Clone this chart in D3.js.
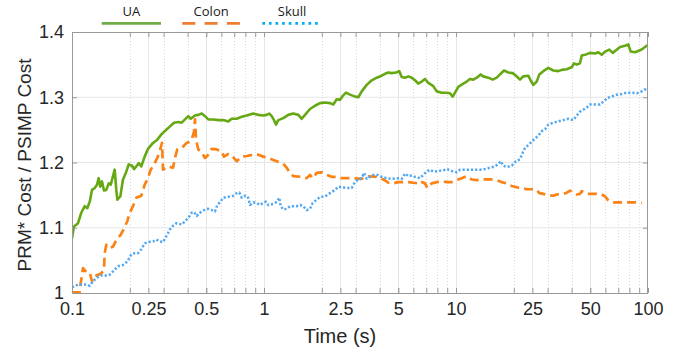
<!DOCTYPE html>
<html><head><meta charset="utf-8">
<script src="https://cdn.jsdelivr.net/npm/d3@7"></script>
<style>body{margin:0;background:#fff}</style>
</head><body><svg id="c" width="678" height="351"></svg>
<script>
const seriesNames = ["UA", "Colon", "Skull"];
const xTickValues = [0.1, 0.25, 0.5, 1, 2.5, 5, 10, 25, 50, 100];
const xTickLabels = ["0.1", "0.25", "0.5", "1", "2.5", "5", "10", "25", "50", "100"];
const xMinorValues = [0.2,0.3,0.4,0.5,0.6,0.7,0.8,0.9,2,3,4,5,6,7,8,9,20,30,40,50,60,70,80,90];
const yTickValues = [1, 1.1, 1.2, 1.3, 1.4];
const yTickLabels = ["1", "1.1", "1.2", "1.3", "1.4"];

const uaTime = [0.1,0.1024,0.1075,0.1118,0.1165,0.1201,0.1237,0.1271,0.1313,0.135,0.1377,0.1404,0.1433,0.1468,0.1509,0.1553,0.1591,0.1621,0.1669,0.1701,0.1722,0.1785,0.1843,0.1918,0.1974,0.2054,0.2104,0.2162,0.2225,0.2296,0.2391,0.2488,0.2642,0.2782,0.2918,0.304,0.3228,0.3398,0.3578,0.3727,0.3877,0.4034,0.4152,0.4371,0.4548,0.4737,0.4928,0.5127,0.5444,0.5801,0.6138,0.6517,0.6788,0.7208,0.7654,0.8126,0.8795,0.9339,0.9917,1.033,1.066,1.097,1.127,1.155,1.187,1.261,1.338,1.421,1.509,1.572,1.635,1.736,1.843,1.957,2.078,2.207,2.296,2.391,2.488,2.57,2.674,2.805,2.978,3.099,3.228,3.427,3.639,3.864,4.102,4.268,4.441,4.625,4.87,5.067,5.215,5.425,5.644,5.879,6.116,6.363,6.628,6.895,7.174,7.617,7.933,8.424,8.945,9.305,9.612,9.881,10.28,10.91,11.37,11.83,12.31,12.82,13.45,13.87,14.73,15.53,16.29,16.95,17.78,18.72,19.74,20.54,21.54,22.41,23.8,24.49,25.27,26.32,27.16,28.49,30.25,32.12,34.1,35.52,37.72,40.05,41.17,42.53,44.24,45.16,46.98,49.88,52.96,55.1,57.39,59.71,62.87,65.49,68.13,71.48,75.9,78.96,81.26,85.57,90.84,94.52,98.45,100];
const uaCost = [1.084,1.102,1.107,1.123,1.133,1.130,1.140,1.158,1.161,1.166,1.176,1.163,1.171,1.157,1.158,1.168,1.166,1.175,1.189,1.158,1.143,1.148,1.174,1.186,1.197,1.195,1.190,1.194,1.199,1.194,1.209,1.221,1.230,1.235,1.243,1.248,1.255,1.261,1.262,1.261,1.266,1.271,1.267,1.272,1.273,1.275,1.271,1.266,1.266,1.265,1.265,1.263,1.267,1.267,1.270,1.272,1.275,1.273,1.272,1.273,1.275,1.271,1.265,1.258,1.265,1.268,1.273,1.275,1.273,1.267,1.273,1.282,1.287,1.291,1.292,1.291,1.289,1.297,1.296,1.302,1.307,1.304,1.301,1.300,1.309,1.319,1.326,1.330,1.333,1.336,1.338,1.337,1.338,1.340,1.331,1.330,1.332,1.330,1.326,1.321,1.324,1.328,1.322,1.317,1.309,1.307,1.307,1.306,1.301,1.307,1.316,1.321,1.324,1.328,1.327,1.330,1.335,1.332,1.330,1.327,1.330,1.335,1.341,1.338,1.337,1.333,1.327,1.332,1.333,1.326,1.319,1.324,1.335,1.340,1.345,1.341,1.340,1.342,1.343,1.346,1.352,1.350,1.352,1.364,1.365,1.368,1.367,1.369,1.365,1.370,1.373,1.368,1.372,1.377,1.379,1.381,1.370,1.369,1.372,1.375,1.379,1.380];

const colonTime = [0.1,0.1097,0.111,0.1141,0.1187,0.1237,0.1271,0.1302,0.1366,0.1421,0.1468,0.148,0.1509,0.1572,0.1635,0.1722,0.1793,0.1881,0.1941,0.1998,0.2078,0.2162,0.2296,0.2391,0.2488,0.257,0.2674,0.2782,0.2863,0.2943,0.2978,0.3162,0.3358,0.3452,0.3535,0.3727,0.3957,0.4117,0.4202,0.4319,0.4371,0.4424,0.4548,0.4737,0.4928,0.5127,0.5341,0.5671,0.6022,0.619,0.6517,0.6871,0.7208,0.7654,0.8126,0.8795,0.9339,0.9917,1.053,1.118,1.165,1.261,1.313,1.366,1.421,1.572,1.669,1.736,1.793,1.881,1.998,2.121,2.252,2.391,2.539,2.863,3.228,3.427,3.864,4.182,4.441,4.715,5.006,5.313,5.644,5.993,6.363,6.494,6.895,7.088,7.473,7.933,8.424,8.945,9.497,10.08,10.71,11.37,12.07,12.82,13.61,15.34,16.29,17.3,18.37,19.5,20.71,21.99,23.35,24.79,26.32,27.16,28.49,30.25,32.12,33.46,35.52,37.41,39.24,41.17,42.53,44.24,45.16,47.94,54.06,57.39,59.71,62.13,65.96,74.37,83.84,89.02,92.73];
const colonCost = [1.001,1.001,1.015,1.038,1.032,1.031,1.018,1.025,1.028,1.030,1.036,1.061,1.074,1.069,1.071,1.084,1.089,1.101,1.110,1.123,1.133,1.146,1.149,1.166,1.176,1.189,1.197,1.207,1.217,1.230,1.189,1.194,1.192,1.209,1.220,1.222,1.230,1.232,1.235,1.247,1.266,1.235,1.220,1.215,1.207,1.212,1.221,1.220,1.217,1.209,1.213,1.209,1.202,1.209,1.210,1.212,1.212,1.209,1.207,1.204,1.202,1.198,1.192,1.184,1.179,1.178,1.176,1.181,1.176,1.184,1.185,1.181,1.178,1.178,1.176,1.176,1.175,1.179,1.178,1.174,1.169,1.168,1.170,1.170,1.170,1.169,1.168,1.171,1.168,1.161,1.168,1.170,1.171,1.170,1.170,1.173,1.176,1.179,1.174,1.173,1.174,1.174,1.173,1.170,1.168,1.164,1.162,1.161,1.159,1.159,1.158,1.153,1.152,1.150,1.149,1.151,1.152,1.153,1.157,1.153,1.151,1.152,1.156,1.152,1.152,1.151,1.148,1.142,1.139,1.139,1.139,1.139,1.138];

const skullTime = [0.1,0.1033,0.1075,0.1187,0.1237,0.1286,0.1338,0.1421,0.1509,0.1572,0.1635,0.1736,0.1843,0.1941,0.2036,0.2121,0.2207,0.2296,0.2391,0.2488,0.2642,0.2748,0.2863,0.2978,0.3099,0.3228,0.3358,0.3493,0.3727,0.3877,0.4034,0.4202,0.4319,0.4462,0.4642,0.4928,0.5127,0.5341,0.5556,0.5712,0.59,0.6138,0.6394,0.692,0.7208,0.7437,0.7654,0.7962,0.8224,0.8455,0.8795,0.9162,0.9532,0.9917,1.024,1.053,1.097,1.141,1.173,1.201,1.222,1.261,1.313,1.366,1.48,1.54,1.602,1.669,1.736,1.793,1.881,1.957,2.078,2.207,2.343,2.438,2.539,2.696,2.863,2.978,3.099,3.228,3.318,3.427,3.565,3.709,3.891,4.102,4.356,4.625,4.911,5.215,5.425,5.644,5.879,6.116,6.494,6.756,7.037,7.321,7.617,8.087,8.587,8.945,9.497,10.08,10.49,11.14,11.83,12.56,13.34,14.16,15.03,15.96,16.61,17.09,17.63,18.37,19.5,20.54,21.54,22.25,22.88,23.8,24.79,26.1,26.83,27.95,29.08,30.25,32.12,34.1,36.21,38.45,40.83,42.53,44.24,46.03,47.94,49.88,52.96,56.23,59,61.38,64.7,68.71,72.95,77.46,82.24,87.33,92.73,96.47,100];
const skullCost = [1.009,1.010,1.013,1.013,1.011,1.018,1.023,1.027,1.027,1.028,1.033,1.041,1.043,1.048,1.059,1.061,1.061,1.067,1.076,1.078,1.079,1.082,1.079,1.078,1.087,1.097,1.103,1.107,1.105,1.110,1.115,1.123,1.124,1.118,1.123,1.128,1.129,1.127,1.125,1.135,1.139,1.146,1.147,1.149,1.153,1.154,1.146,1.149,1.148,1.135,1.139,1.138,1.135,1.138,1.140,1.135,1.136,1.138,1.140,1.146,1.133,1.128,1.129,1.133,1.133,1.135,1.133,1.127,1.129,1.138,1.143,1.147,1.148,1.153,1.158,1.163,1.162,1.161,1.161,1.170,1.174,1.176,1.184,1.175,1.178,1.181,1.181,1.178,1.176,1.175,1.176,1.175,1.183,1.179,1.180,1.178,1.176,1.181,1.186,1.189,1.186,1.187,1.188,1.190,1.187,1.185,1.189,1.189,1.189,1.189,1.189,1.190,1.192,1.194,1.198,1.202,1.195,1.193,1.195,1.202,1.205,1.215,1.222,1.227,1.232,1.238,1.241,1.248,1.251,1.258,1.261,1.263,1.265,1.267,1.265,1.272,1.278,1.281,1.284,1.289,1.289,1.289,1.294,1.299,1.301,1.304,1.305,1.307,1.307,1.306,1.309,1.312,1.309];

function zip(t, v, name) {
  if (t.length !== v.length) throw new Error(name + " length mismatch " + t.length + " vs " + v.length);
  return t.map((d, i) => ({t: d, v: v[i]}));
}
const series = [
  {name: seriesNames[0], data: zip(uaTime, uaCost, "UA"), color: "#66a814", legendColor: "#70ad47", width: 2.6, dash: null, legendDash: null},
  {name: seriesNames[1], data: zip(colonTime, colonCost, "Colon"), color: "#fb8214", legendColor: "#ed7d31", width: 2.7, dash: "9,5", legendDash: "13,9.3"},
  {name: seriesNames[2], data: zip(skullTime, skullCost, "Skull"), color: "#52a8f2", legendColor: "#00b0f0", width: 2.5, dash: "2.2,2", legendDash: "2.7,3.9"}
];

const L = 72, R = 648, T = 32, B = 293;
const svg = d3.select("#c");
const x = d3.scaleLog().domain([0.1, 100]).range([L, R]);
const y = d3.scaleLinear().domain([1, 1.4]).range([B, T]);
const font = "'Liberation Sans', Arial, Helvetica, sans-serif";

// grid
const g = svg.append("g");
g.selectAll(".hg").data(yTickValues.slice(1, -1)).join("line")
  .attr("x1", L).attr("x2", R).attr("y1", d => y(d)).attr("y2", d => y(d))
  .attr("stroke", "#e6e6e6").attr("stroke-width", 1);
g.selectAll(".vmin").data(xMinorValues.filter(d => !xTickValues.includes(d))).join("line")
  .attr("x1", d => Math.round(x(d)) + 0.5).attr("x2", d => Math.round(x(d)) + 0.5).attr("y1", T).attr("y2", B)
  .attr("stroke", "#dcdcdc").attr("stroke-width", 1).attr("stroke-dasharray", "1,2");
g.selectAll(".vmaj").data(xTickValues.slice(1, -1)).join("line")
  .attr("x1", d => Math.round(x(d)) + 0.5).attr("x2", d => Math.round(x(d)) + 0.5).attr("y1", T).attr("y2", B)
  .attr("stroke", "#e6e6e6").attr("stroke-width", 1);

// lines
svg.append("clipPath").attr("id", "clip").append("rect").attr("x", L).attr("y", T - 3).attr("width", R - L).attr("height", B - T + 3);
const line = d3.line().x(d => x(d.t)).y(d => y(d.v));
const lg = svg.append("g").attr("clip-path", "url(#clip)");
series.forEach(s => {
  lg.append("path").datum(s.data).attr("d", line)
    .attr("fill", "none").attr("stroke", s.color).attr("stroke-width", s.width)
    .attr("stroke-linejoin", "round")
    .attr("stroke-dasharray", s.dash);
});

// axes
const axisColor = "#999";
const axBottom = svg.append("g").attr("transform", `translate(0,${B})`)
  .call(d3.axisBottom(x).tickValues(xTickValues).tickFormat((d, i) => xTickLabels[i]).tickSize(-5).tickPadding(9.5));
const axBottomMinor = svg.append("g").attr("transform", `translate(0,${B})`)
  .call(d3.axisBottom(x).tickValues(xMinorValues).tickFormat("").tickSize(-5));
const axTop = svg.append("g").attr("transform", `translate(0,${T})`)
  .call(d3.axisTop(x).tickValues(xTickValues.concat(xMinorValues)).tickFormat("").tickSize(-5));
const axLeft = svg.append("g").attr("transform", `translate(${L},0)`)
  .call(d3.axisLeft(y).tickValues(yTickValues).tickFormat((d, i) => yTickLabels[i]).tickSize(-5).tickPadding(8));
const axRight = svg.append("g").attr("transform", `translate(${R},0)`)
  .call(d3.axisRight(y).tickValues(yTickValues).tickFormat("").tickSize(-5));
[axBottom, axBottomMinor, axTop, axLeft, axRight].forEach(a => {
  a.select(".domain").remove();
  a.selectAll(".tick line").attr("stroke", axisColor);
  a.selectAll("text").attr("font-family", font).attr("font-size", 18).attr("fill", "#262626");
});
svg.append("rect").attr("x", L + 0.5).attr("y", T + 0.5).attr("width", R - L - 1).attr("height", B - T)
  .attr("fill", "none").attr("stroke", axisColor).attr("stroke-width", 1);

// axis titles
svg.append("text").attr("x", 340).attr("y", 343).attr("text-anchor", "middle")
  .attr("font-family", font).attr("font-size", 20).attr("fill", "#262626").text("Time (s)");
svg.append("text").attr("transform", "translate(31,165) rotate(-90)").attr("text-anchor", "middle")
  .attr("font-family", font).attr("font-size", 19).attr("fill", "#262626").text("PRM* Cost / PSIMP Cost");

// legend
const legendX = [[101.7, 161], [182.3, 240], [262.3, 321.7]];
series.forEach((s, i) => {
  const [a, b] = legendX[i];
  svg.append("text").attr("x", (a + b) / 2).attr("y", 16).attr("text-anchor", "middle")
    .attr("font-family", "'Open Sans', sans-serif").attr("font-size", 13).attr("fill", "#1a1a1a").text(s.name);
  svg.append("line").attr("x1", a).attr("x2", b).attr("y1", 23.3).attr("y2", 23.3)
    .attr("stroke", s.legendColor).attr("stroke-width", 2.8).attr("stroke-dasharray", s.legendDash);
});
</script></body></html>
